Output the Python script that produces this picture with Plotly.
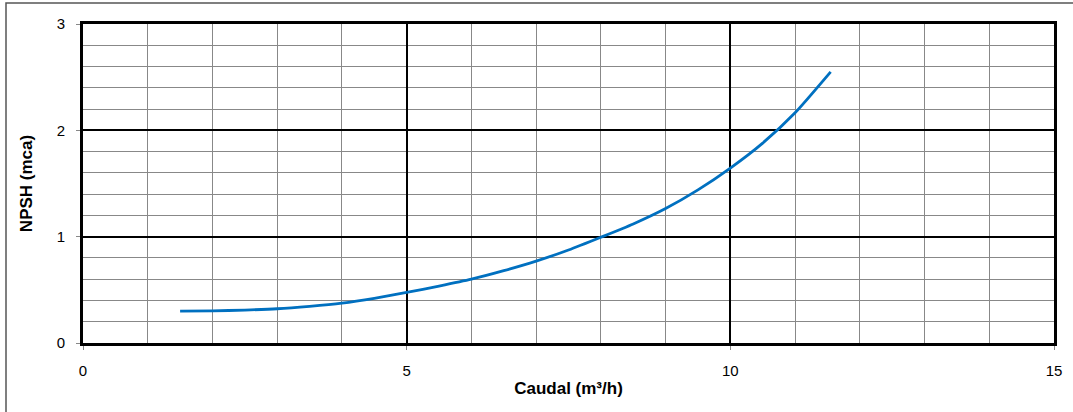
import plotly.graph_objects as go

caudal = [1.5, 2, 2.5, 3, 3.5, 4, 4.5, 5, 5.5, 6, 6.5, 7, 7.5, 8, 8.5, 9, 9.5, 10, 10.5, 11, 11.55]
npsh = [0.30, 0.302, 0.31, 0.322, 0.345, 0.375, 0.42, 0.475, 0.535, 0.60, 0.68, 0.77,
        0.875, 0.995, 1.12, 1.265, 1.44, 1.645, 1.88, 2.165, 2.55]

x_ticks = [0, 5, 10, 15]
y_ticks = [0, 1, 2, 3]

fig = go.Figure()
fig.add_trace(go.Scatter(
    x=caudal, y=npsh, mode="lines",
    line=dict(color="#0070C0", width=2.8, shape="spline", smoothing=0.6),
    showlegend=False, hoverinfo="skip"))

axis_common = dict(
    showline=True, linecolor="black", linewidth=3, mirror=True,
    showgrid=True, gridcolor="black", gridwidth=1.5,
    zeroline=False, ticks="outside", ticklen=4, tickcolor="#888888", tickwidth=1,
    tickfont=dict(family="Liberation Sans, Arial", size=15, color="black"),
)
title_font = dict(family="Liberation Sans, Arial", size=17, color="black", weight="bold")

fig.update_layout(
    width=1073, height=412,
    margin=dict(l=83, r=19, t=24, b=69),
    paper_bgcolor="white", plot_bgcolor="white",
    xaxis=dict(
        range=[0, 15], tickvals=x_ticks, ticktext=[str(v) for v in x_ticks],
        minor=dict(dtick=1, showgrid=True, gridcolor="#888888", gridwidth=1, ticks=""),
        ticklabelstandoff=8,
        title=dict(text="Caudal (m³/h)", font=title_font, standoff=5),
        **axis_common),
    yaxis=dict(
        range=[0, 3], tickvals=y_ticks, ticktext=[str(v) for v in y_ticks],
        minor=dict(dtick=0.2, showgrid=True, gridcolor="#888888", gridwidth=1, ticks=""),
        ticklabelstandoff=8,
        title=dict(text="NPSH (mca)", font=title_font, standoff=20),
        **axis_common),
    shapes=[dict(type="rect", xref="paper", yref="paper",
                 x0=(6 - 83) / 971, x1=(1090 - 83) / 971,
                 y0=(343 - 430) / 319, y1=1 + 21 / 319,
                 line=dict(color="#555555", width=1.5), layer="below")],
)

fig.write_html("out.html", config={"displayModeBar": False},
               post_script="document.body.style.margin='0';document.body.style.overflow='hidden';")
